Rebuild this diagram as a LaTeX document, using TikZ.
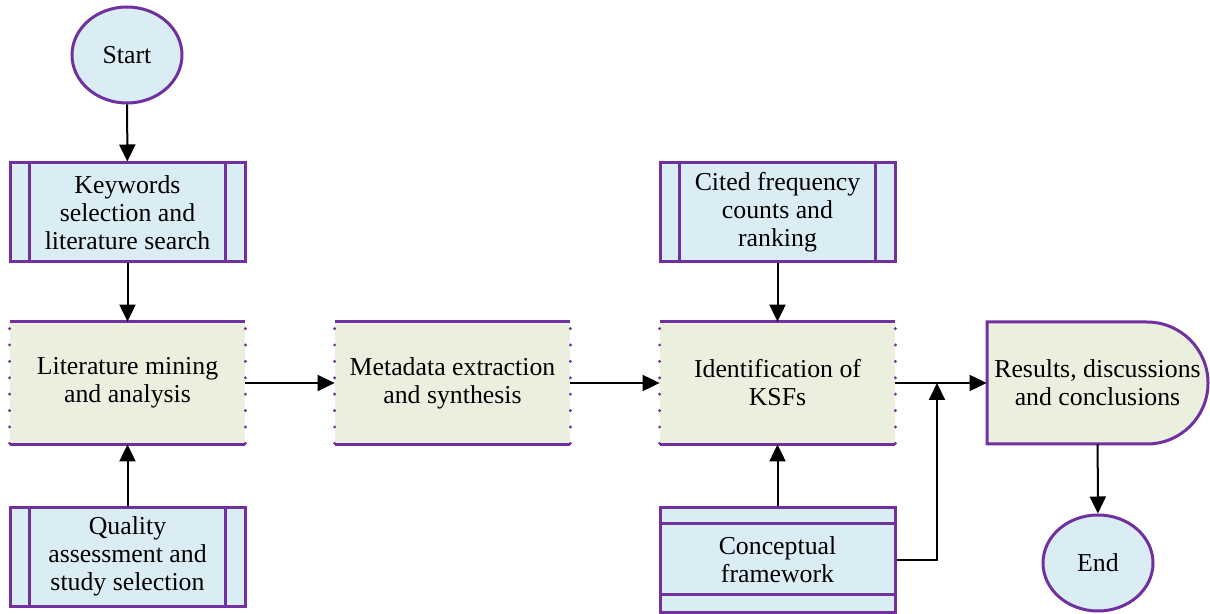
\documentclass[tikz,border=0pt]{standalone}
\usepackage{fontspec}
\setmainfont{Liberation Serif}
\usetikzlibrary{arrows.meta,calc,shapes.geometric}
\definecolor{bord}{HTML}{7030A0}
\definecolor{lblue}{HTML}{DAEDF4}
\definecolor{lgreen}{HTML}{EBF0DE}
\begin{document}
\begin{tikzpicture}[x=0.5pt,y=-0.5pt,
 base/.style={font=\fontsize{12.9}{14}\selectfont, align=center, inner sep=0pt},
 subproc/.style={base, rectangle, fill=lblue, draw=bord, line width=1.5pt, minimum width=117.5pt, minimum height=49.5pt},
 proc/.style={base, rectangle, fill=lgreen, minimum width=117.5pt, minimum height=61pt},
 term/.style={base, ellipse, fill=lblue, draw=bord, line width=1.5pt, minimum width=55pt, minimum height=48pt},
 bline/.style={draw=bord, line width=1.5pt},
 dotline/.style={draw=bord, line width=1.6pt, line cap=round, dash pattern=on 0pt off 8.2pt},
 conn/.style={line width=1pt, -{Triangle[length=8.5pt,width=8pt]}},
 ]
\useasboundingbox (0,0) rectangle (1210,614);

% terminals
\node[term] (start) at (127,55) {Start};
\node[term] (end) at (1098,563) {End};

% sub-process boxes
\node[subproc] (kw) at (127.5,212.5) {Keywords\\selection and\\literature search};
\node[subproc] (qa) at (127.5,556.5) {Quality\\assessment and\\study selection};
\node[subproc] (cfc) at (777.5,212.5) {Cited frequency\\counts and\\ranking};
\foreach \n in {kw,qa,cfc}{
  \draw[bline] ([xshift=10.5pt]\n.north west) -- ([xshift=10.5pt]\n.south west);
  \draw[bline] ([xshift=-10.5pt]\n.north east) -- ([xshift=-10.5pt]\n.south east);
}

% conceptual framework
\node[subproc, minimum height=52.5pt] (cpt) at (777.5,559.5) {Conceptual\\framework};
\draw[bline] ([yshift=-9pt]cpt.north west) -- ([yshift=-9pt]cpt.north east);
\draw[bline] ([yshift=9.5pt]cpt.south west) -- ([yshift=9.5pt]cpt.south east);

% process boxes
\node[proc] (lm) at (127.5,383) {Literature mining\\and analysis};
\node[proc] (md) at (452.5,383) {Metadata extraction\\and synthesis};
\node[proc] (id) at (777.5,383) {Identification of\\KSFs};
\foreach \n in {lm,md,id}{
  \draw[bline] (\n.north west) -- (\n.north east);
  \draw[bline] (\n.south west) -- (\n.south east);
  \draw[dotline] ([yshift=-3.5pt]\n.north west) -- (\n.south west);
  \draw[dotline] ([yshift=-3.5pt]\n.north east) -- (\n.south east);
}

% results (delay shape)
\draw[bline, fill=lgreen] (987,322) -- (1147,322) arc[start angle=90, end angle=-90, radius=30.5pt] -- (987,444) -- cycle;
\node[base, minimum width=110.5pt, minimum height=61pt] (res) at (1097.5,383) {Results, discussions\\and conclusions};

% connectors
\coordinate (jn) at (937,383);
\draw[conn] (start) -- (kw);
\draw[conn] (kw) -- (lm);
\draw[conn] (qa) -- (lm);
\draw[conn] (lm) -- (md);
\draw[conn] (md) -- (id);
\draw[conn] (cfc) -- (id);
\draw[conn] (cpt) -- (id);
\draw[conn] (id) -- (res);
\draw[conn] (cpt.east) -| (jn);
\draw[conn] (res) -- (end);
\end{tikzpicture}
\end{document}
